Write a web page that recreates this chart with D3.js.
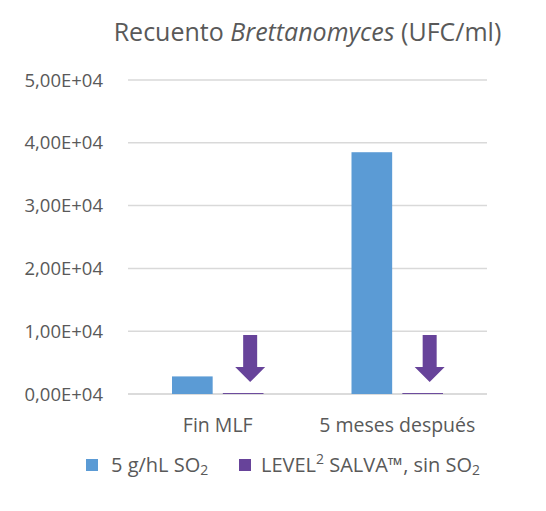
<!DOCTYPE html>
<html>
<head>
<meta charset="utf-8">
<script src="https://cdn.jsdelivr.net/npm/d3@7"></script>
<style>
  body { margin: 0; background: #fff; }
  text { font-family: "Open Sans", sans-serif; fill: #595959; }
</style>
</head>
<body>
<div id="chart"></div>
<script>
var categories = ["Fin MLF", "5 meses después"];
var series_names = ["5 g/hL SO2", "LEVEL2 SALVA, sin SO2"];
var so2_values = [2800, 38500];
var salva_values = [150, 150];
var y_ticks = [0, 10000, 20000, 30000, 40000, 50000];
// arrow annotation over the second series: shaft top and tip, in data units
var arrow_top = 9400;
var arrow_tip = 1900;

var width = 546;
var height = 511;
var margin = {top: 80, right: 59, bottom: 117, left: 128};
var plot_w = width - margin.left - margin.right;
var plot_h = height - margin.top - margin.bottom;
var colors = ["#5b9bd5", "#67439a"];

var svg = d3.select("#chart")
    .append("svg")
    .attr("width", width)
    .attr("height", height);

var g = svg.append("g")
    .attr("transform", "translate(" + margin.left + "," + margin.top + ")");

var scale_x = d3.scaleBand()
    .domain(categories)
    .range([0, plot_w])
    .paddingInner(0)
    .paddingOuter(0);

var scale_inner = d3.scaleBand()
    .domain([0, 1])
    .range([44, scale_x.bandwidth() - 44])
    .paddingInner(0.2);

var scale_y = d3.scaleLinear()
    .domain([0, 50000])
    .range([plot_h, 0]);

function fmt(d) {
    return (d / 10000).toFixed(2).replace(".", ",") + "E+04";
}

// gridlines
g.selectAll("line.grid")
    .data(y_ticks)
    .enter()
    .append("line")
    .attr("class", "grid")
    .attr("x1", 0)
    .attr("x2", plot_w)
    .attr("y1", function(d){ return scale_y(d); })
    .attr("y2", function(d){ return scale_y(d); })
    .attr("stroke", function(d){ return d === 0 ? "#cfcfcf" : "#d9d9d9"; })
    .attr("stroke-width", 1.5);

// y labels
g.selectAll("text.ytick")
    .data(y_ticks)
    .enter()
    .append("text")
    .attr("class", "ytick")
    .attr("x", -25)
    .attr("y", function(d){ return scale_y(d); })
    .attr("dy", "0.36em")
    .attr("text-anchor", "end")
    .attr("font-size", 18.5)
    .text(fmt);

// bars
var all_series = [so2_values, salva_values];
all_series.forEach(function(values, si) {
    g.selectAll("rect.s" + si)
        .data(values)
        .enter()
        .append("rect")
        .attr("class", "s" + si)
        .attr("x", function(d, i){ return scale_x(categories[i]) + scale_inner(si); })
        .attr("y", function(d){ return scale_y(d); })
        .attr("width", scale_inner.bandwidth())
        .attr("height", function(d){ return plot_h - scale_y(d); })
        .attr("fill", colors[si]);
});

// arrows over the second series
var shaft_w = 14, head_w = 30, head_h = 15;
g.selectAll("path.arrow")
    .data(salva_values)
    .enter()
    .append("path")
    .attr("class", "arrow")
    .attr("d", function(d, i){
        var cx = scale_x(categories[i]) + scale_inner(1) + scale_inner.bandwidth() / 2 + 7;
        var top = scale_y(arrow_top);
        var tip = scale_y(arrow_tip);
        var neck = tip - head_h;
        return "M" + (cx - shaft_w / 2) + "," + top +
            "L" + (cx + shaft_w / 2) + "," + top +
            "L" + (cx + shaft_w / 2) + "," + neck +
            "L" + (cx + head_w / 2) + "," + neck +
            "L" + cx + "," + tip +
            "L" + (cx - head_w / 2) + "," + neck +
            "L" + (cx - shaft_w / 2) + "," + neck + "Z";
    })
    .attr("fill", colors[1]);

// category labels
g.selectAll("text.xlab")
    .data(categories)
    .enter()
    .append("text")
    .attr("class", "xlab")
    .attr("x", function(d){ return scale_x(d) + scale_x.bandwidth() / 2; })
    .attr("y", plot_h + 38)
    .attr("text-anchor", "middle")
    .attr("font-size", 19.5)
    .text(function(d){ return d; });

// title
var title = svg.append("text")
    .attr("x", margin.left + plot_w / 2)
    .attr("y", 41)
    .attr("text-anchor", "middle")
    .attr("font-size", 25);
title.append("tspan").text("Recuento ");
title.append("tspan").attr("font-style", "italic").text("Brettanomyces");
title.append("tspan").text(" (UFC/ml)");

// legend
var legend_y = 465;
var leg = svg.append("g");
leg.append("rect").attr("x", 86).attr("y", legend_y - 6).attr("width", 12).attr("height", 12).attr("fill", colors[0]);
var t1 = leg.append("text").attr("x", 111).attr("y", legend_y + 7).attr("font-size", 20);
t1.append("tspan").text("5 g/hL SO");
t1.append("tspan").attr("font-size", 14).attr("dy", 3).text("2");

leg.append("rect").attr("x", 239).attr("y", legend_y - 6).attr("width", 12).attr("height", 12).attr("fill", colors[1]);
var t2 = leg.append("text").attr("x", 261).attr("y", legend_y + 7).attr("font-size", 20);
t2.append("tspan").text("LEVEL");
t2.append("tspan").attr("font-size", 14).attr("dy", -8).text("2");
t2.append("tspan").attr("dy", 8).text(" SALVA\u2122, sin SO");
t2.append("tspan").attr("font-size", 14).attr("dy", 3).text("2");
</script>
</body>
</html>
